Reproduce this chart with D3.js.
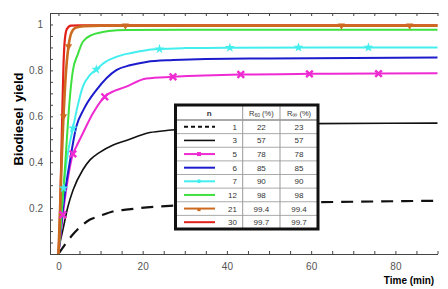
<!DOCTYPE html>
<html>
<head>
<meta charset="utf-8">
<script src="https://cdn.jsdelivr.net/npm/d3@7"></script>
<style>
  body { margin: 0; background: #fff; }
  svg { display: block; }
</style>
</head>
<body>
<svg id="chart" width="448" height="289"></svg>
<script>
// values (time in min, yield as fraction)
const tN1 = [0, 1.5, 3.06, 5, 7.4, 9.8, 12.9, 16, 19.3, 26.4, 40, 60, 90];
const vN1 = [0, 0.04, 0.077, 0.115, 0.149, 0.165, 0.185, 0.193, 0.2, 0.21, 0.218, 0.225, 0.232];

const tN3 = [0, 0.3, 1.07, 2.26, 3.5, 5.8, 7.5, 9.8, 13, 16.1, 21.7, 26.8, 35, 45, 60, 90];
const vN3 = [0, 0.04, 0.106, 0.207, 0.28, 0.367, 0.41, 0.443, 0.475, 0.495, 0.529, 0.54, 0.555, 0.563, 0.568, 0.57];

const tN5 = [0, 0.5, 1.07, 2, 3.44, 4.25, 5.8, 8.2, 11, 16.1, 20.9, 27.2, 43.3, 59.6, 76, 90];
const vN5 = [0, 0.08, 0.171, 0.3, 0.436, 0.468, 0.526, 0.613, 0.685, 0.729, 0.765, 0.772, 0.782, 0.785, 0.786, 0.787];

const tN6 = [0, 0.8, 1.5, 2.66, 4.25, 6, 9, 13.75, 17, 20.9, 27.2, 35, 50, 90];
const vN6 = [0, 0.15, 0.26, 0.396, 0.555, 0.63, 0.714, 0.801, 0.822, 0.837, 0.845, 0.85, 0.852, 0.856];

const tN7 = [0, 0.6, 1.24, 2, 3.44, 4.5, 5.8, 7.5, 9, 11, 13.75, 17, 20.9, 24, 30, 40, 90];
const vN7 = [0, 0.14, 0.287, 0.41, 0.548, 0.64, 0.729, 0.78, 0.804, 0.835, 0.859, 0.875, 0.888, 0.893, 0.897, 0.899, 0.9];

const tN12 = [0, 0.5, 1, 1.5, 2, 2.66, 3.44, 4.6, 5.8, 8, 10, 12, 16, 30, 90];
const vN12 = [0, 0.12, 0.24, 0.36, 0.5, 0.67, 0.8, 0.87, 0.925, 0.955, 0.965, 0.972, 0.976, 0.977, 0.977];

const tN21 = [0, 0.4, 0.8, 1.2, 1.6, 2, 2.4, 3, 4, 6, 10, 90];
const vN21 = [0, 0.2, 0.42, 0.6, 0.74, 0.84, 0.905, 0.96, 0.985, 0.993, 0.995, 0.995];

const tN30 = [0, 0.3, 0.6, 0.9, 1.2, 1.5, 2, 3, 5, 90];
const vN30 = [0, 0.12, 0.35, 0.6, 0.82, 0.93, 0.98, 0.995, 0.996, 0.996];

// marker positions
const markT5 = [1.07, 3.44, 11, 27.2, 43.3, 59.6, 76];
const markV5 = [0.171, 0.436, 0.685, 0.772, 0.782, 0.785, 0.786];
const markT7 = [1.24, 3.44, 9, 24, 40.7, 57, 73.6];
const markV7 = [0.287, 0.548, 0.804, 0.893, 0.899, 0.9, 0.9];
const markT21 = [1.2, 2.4, 15.9, 67.2, 83.4];
const markV21 = [0.6, 0.905, 0.995, 0.995, 0.995];

// table
const nValues = ["1", "3", "5", "6", "7", "12", "21", "30"];
const r60Values = ["22", "57", "78", "85", "90", "98", "99.4", "99.7"];
const rInfValues = ["23", "57", "78", "85", "90", "98", "99.4", "99.7"];

const xTicks = d3.range(0, 91, 5);
const xLabels = [0, 20, 40, 60, 80];
const yTicks = d3.range(0, 1.0501, 0.05);
const yLabels = [0.2, 0.4, 0.6, 0.8, 1];

const svg = d3.select("#chart");

const x = d3.scaleLinear().domain([-2, 90]).range([50, 437.5]);
const y = d3.scaleLinear().domain([0, 1.05]).range([254, 13]);

const series = [
  { t: tN1, v: vN1, color: "#111", width: 2.2, dash: "12,8" },
  { t: tN3, v: vN3, color: "#111", width: 1.6 },
  { t: tN5, v: vN5, color: "#ee2ad2", width: 2 },
  { t: tN6, v: vN6, color: "#1c1ccc", width: 2 },
  { t: tN7, v: vN7, color: "#44eeee", width: 2 },
  { t: tN12, v: vN12, color: "#3ee03e", width: 2 },
  { t: tN30, v: vN30, color: "#e2211b", width: 2.2 },
  { t: tN21, v: vN21, color: "#cc6a1f", width: 2.6 }
];

const line = d3.line()
  .x(d => x(d[0]))
  .y(d => y(d[1]))
  .curve(d3.curveMonotoneX);

// axes
const axisColor = "#444";
const labelFont = "'Liberation Sans Narrow', 'Arial Narrow', 'Liberation Sans', sans-serif";

const axisBottomG = svg.append("g")
  .attr("transform", "translate(0,254)")
  .call(d3.axisBottom(x).tickValues(xTicks).tickSize(-3).tickSizeOuter(0).tickPadding(9)
    .tickFormat(d => xLabels.includes(d) ? d : ""));

const axisTopG = svg.append("g")
  .attr("transform", "translate(0,13)")
  .call(d3.axisTop(x).tickValues(xTicks).tickSize(-3).tickSizeOuter(0).tickFormat(""));

const axisLeftG = svg.append("g")
  .attr("transform", "translate(50,0)")
  .call(d3.axisLeft(y).tickValues(yTicks).tickSize(-3).tickSizeOuter(0).tickPadding(7)
    .tickFormat(d => yLabels.some(l => Math.abs(l - d) < 1e-6) ? d3.format("~g")(d) : ""));

[axisBottomG, axisTopG, axisLeftG].forEach(g => {
  g.select(".domain").attr("stroke", axisColor);
  g.selectAll(".tick line").attr("stroke", axisColor);
  g.selectAll(".tick text")
    .attr("fill", "#555")
    .style("font-family", labelFont)
    .style("font-size", "10px");
});

// curves
svg.append("g")
  .selectAll("path")
  .data(series)
  .join("path")
  .attr("d", s => line(s.t.map((t, i) => [t, s.v[i]])))
  .attr("fill", "none")
  .attr("stroke", s => s.color)
  .attr("stroke-width", s => s.width)
  .attr("stroke-dasharray", s => s.dash || null);

// markers
const xMark = d3.symbol().type(d3.symbolX).size(30);
const starMark = d3.symbol().type(d3.symbolStar).size(30);
const triMark = d3.symbol().type(d3.symbolTriangle).size(22);

svg.append("g").selectAll("path")
  .data(markT5.map((t, i) => [t, markV5[i]]))
  .join("path")
  .attr("transform", d => `translate(${x(d[0])},${y(d[1])})`)
  .attr("d", xMark)
  .attr("fill", "none")
  .attr("stroke", "#ee2ad2")
  .attr("stroke-width", 2.4);

svg.append("g").selectAll("path")
  .data(markT7.map((t, i) => [t, markV7[i]]))
  .join("path")
  .attr("transform", d => `translate(${x(d[0])},${y(d[1])})`)
  .attr("d", starMark)
  .attr("fill", "#44eeee");

svg.append("g").selectAll("path")
  .data(markT21.map((t, i) => [t, markV21[i]]))
  .join("path")
  .attr("transform", d => `translate(${x(d[0])},${y(d[1])}) rotate(180)`)
  .attr("d", triMark)
  .attr("fill", "#cc6a1f");

// axis titles
svg.append("text")
  .attr("transform", "translate(23,119) rotate(-90)")
  .attr("text-anchor", "middle")
  .style("font-family", "'Liberation Sans', Arial, sans-serif")
  .style("font-size", "13px")
  .style("font-weight", "bold")
  .style("word-spacing", "2px")
  .text("Biodiesel yield");

svg.append("text")
  .attr("x", 409)
  .attr("y", 284)
  .attr("text-anchor", "middle")
  .style("font-family", "'Liberation Sans', Arial, sans-serif")
  .style("font-size", "10px")
  .style("font-weight", "bold")
  .text("Time (min)");

// table
const tb = { x0: 175.5, x1: 318, y0: 105, head: 120, y1: 229 };
const cols = [tb.x0, 242.7, 280, tb.x1];
const rowH = (tb.y1 - tb.head) / nValues.length;
const tableFont = "'Liberation Sans', Arial, sans-serif";
const table = svg.append("g");

table.append("rect")
  .attr("x", tb.x0).attr("y", tb.y0)
  .attr("width", tb.x1 - tb.x0).attr("height", tb.y1 - tb.y0)
  .attr("fill", "#fff");

// grid
table.selectAll("line.row")
  .data(d3.range(0, nValues.length))
  .join("line")
  .attr("x1", tb.x0).attr("x2", tb.x1)
  .attr("y1", i => tb.head + i * rowH).attr("y2", i => tb.head + i * rowH)
  .attr("stroke", i => i === 0 ? "#555" : "#aaa")
  .attr("stroke-width", 1);

table.selectAll("line.col")
  .data(cols.slice(1, 3))
  .join("line")
  .attr("x1", d => d).attr("x2", d => d)
  .attr("y1", tb.y0).attr("y2", tb.y1)
  .attr("stroke", "#999");

table.append("rect")
  .attr("x", tb.x0).attr("y", tb.y0)
  .attr("width", tb.x1 - tb.x0).attr("height", tb.y1 - tb.y0)
  .attr("fill", "none")
  .attr("stroke", "#111")
  .attr("stroke-width", 3);

// header
const headY = (tb.y0 + tb.head) / 2 + 3;
table.append("text")
  .attr("x", (cols[0] + cols[1]) / 2).attr("y", headY)
  .attr("text-anchor", "middle")
  .style("font-family", tableFont).style("font-size", "8px").style("font-weight", "bold")
  .attr("fill", "#333")
  .text("n");

[["60", (cols[1] + cols[2]) / 2, "5px"], ["∞", (cols[2] + cols[3]) / 2, "7px"]].forEach(([sub, cx, fs]) => {
  const t = table.append("text")
    .attr("x", cx).attr("y", headY)
    .attr("text-anchor", "middle")
    .style("font-family", tableFont).style("font-size", "7.5px")
    .attr("fill", "#333");
  t.append("tspan").text("R");
  t.append("tspan").attr("dy", 1.5).style("font-size", fs).text(sub);
  t.append("tspan").attr("dy", -1.5).text(" (%)");
});

// rows
const rows = table.selectAll("g.row")
  .data(nValues.map((n, i) => ({ n, r60: r60Values[i], rInf: rInfValues[i], s: series[i === 6 ? 7 : i === 7 ? 6 : i] })))
  .join("g")
  .attr("transform", (d, i) => `translate(0,${tb.head + (i + 0.5) * rowH})`);

rows.append("line")
  .attr("x1", 184).attr("x2", 215)
  .attr("y1", 0).attr("y2", 0)
  .attr("stroke", d => d.s.color)
  .attr("stroke-width", d => Math.min(d.s.width, 2))
  .attr("stroke-dasharray", d => d.s.dash ? "4,3" : null);

rows.filter(d => d.n === "5").append("path")
  .attr("transform", "translate(199,0)")
  .attr("d", d3.symbol().type(d3.symbolSquare).size(16))
  .attr("fill", "#ee2ad2");
rows.filter(d => d.n === "7").append("path")
  .attr("transform", "translate(199,0)")
  .attr("d", d3.symbol().type(d3.symbolCircle).size(12))
  .attr("fill", "#44eeee");
rows.filter(d => d.n === "21").append("path")
  .attr("transform", "translate(199,1)")
  .attr("d", d3.symbol().type(d3.symbolSquare).size(10))
  .attr("fill", "#cc6a1f");

const cellText = (sel, x, anchor, key) => sel.append("text")
  .attr("x", x).attr("y", 3)
  .attr("text-anchor", anchor)
  .style("font-family", tableFont).style("font-size", "8px")
  .attr("fill", "#333")
  .text(d => d[key]);

cellText(rows, 237, "end", "n");
cellText(rows, (cols[1] + cols[2]) / 2, "middle", "r60");
cellText(rows, (cols[2] + cols[3]) / 2, "middle", "rInf");
</script>
</body>
</html>
